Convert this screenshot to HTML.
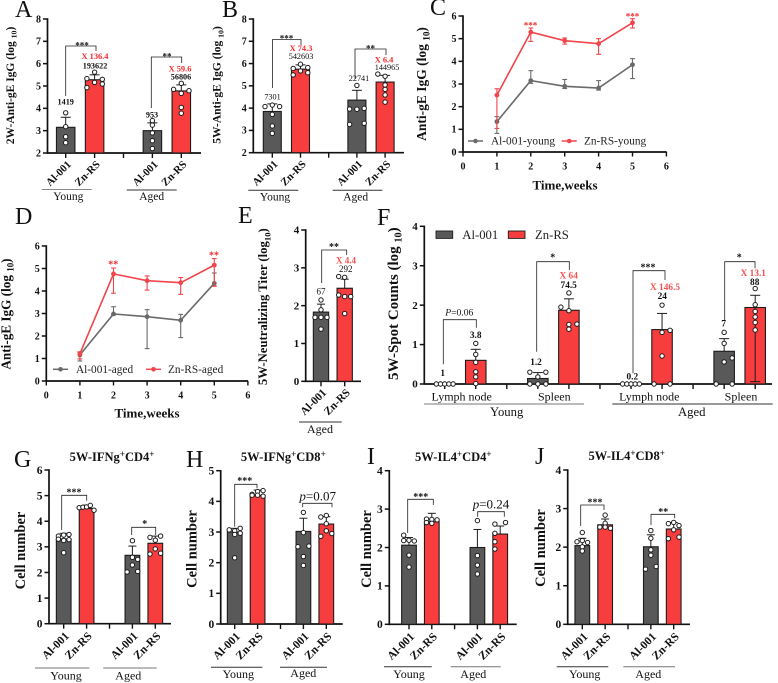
<!DOCTYPE html>
<html lang="en">
<head>
<meta charset="utf-8">
<title>Anti-gE IgG multi-panel figure</title>
<style>
html,body{margin:0;padding:0;background:#fff;width:778px;height:683px;overflow:hidden}
svg{display:block;font-family:"Liberation Serif",serif}
</style>
</head>
<body>
<svg id="figure" xmlns="http://www.w3.org/2000/svg" width="778" height="683" viewBox="0 0 778 683"></svg>
<script>
/* ---------- chart data ---------- */
const twoGroupCategories = ['Al-001','Zn-RS','Al-001','Zn-RS'];
const spotCategories = ['Al-001','Zn-RS','Al-001','Zn-RS','Al-001','Zn-RS','Al-001','Zn-RS'];
const igGTicks = [2,3,4,5,6,7,8];
const lineXTicks = [0,1,2,3,4,5,6];
const lineYTicks = [0,1,2,3,4,5,6];
const weeks = [1,2,3,4,5];
const fourTicks = [0,1,2,3,4];
const fiveTicks = [0,1,2,3,4,5];
const sixTicks = [0,1,2,3,4,5,6];

const aMeans = [3.15,5.28,3.0,4.78];
const aUpper = [3.6,5.5,3.35,5.05];
const aPoints = [
  [[3.8,3.18,2.73,2.46]],
  [[5.33,4.93],[5.62,5.16],[5.3,5.09]],
  [[3.45,3.25,2.9,2.55,2.2]],
  [[4.85],[5.12,4.67,4.04,3.78],[4.79]]
];

const bMeans = [3.85,5.75,4.36,5.17];
const bUpper = [4.19,5.94,4.8,5.47];
const bPoints = [
  [[4.07],[4.14,3.72,3.2,2.87],[4.07]],
  [[5.78,5.49],[5.97,5.67],[5.82,5.59]],
  [[3.96,3.27],[5.02,3.95],[3.99,3.32]],
  [[5.53],[5.43,5.04,4.84,4.59,4.27],[]]
];

const cAlMeans = [1.34,3.15,2.9,2.82,3.85];
const cAlUpper = [1.56,3.59,3.2,3.15,4.12];
const cAlLower = [0.82,3.03,2.8,2.73,3.24];
const cZnMeans = [2.51,5.29,4.91,4.78,5.7];
const cZnUpper = [2.79,5.47,5.03,5.0,5.88];
const cZnLower = [1.04,4.88,4.76,4.31,5.47];

const dAlMeans = [1.16,2.98,2.86,2.7,4.34];
const dAlUpper = [1.26,3.3,3.17,2.96,4.8];
const dAlLower = [0.89,2.93,1.44,1.93,4.22];
const dZnMeans = [1.21,4.76,4.46,4.37,5.15];
const dZnUpper = [1.3,5.02,4.67,4.6,5.44];
const dZnLower = [0.98,3.9,4.04,3.85,4.21];

const eCategories = ['Al-001','Zn-RS'];
const eMeans = [1.83,2.46];
const eUpper = [2.04,2.7];
const ePoints = [
  [[1.69],[2.15,1.89,1.69,1.38],[1.69]],
  [[2.77,2.28],[2.75,2.24,1.79],[2.24]]
];

const fMeans = [0,0.6,0.14,1.87,0,1.38,0.83,1.94];
const fUpper = [0,0.88,0.29,2.16,0,1.79,1.15,2.25];
const fLower = [null,null,null,null,null,null,null,0.06];
const fPoints = [
  [[0],[0],[0],[0],[0]],
  [[1.03,0.75,0.55,0.31,0.18,0.01]],
  [[0.3,0],[0.18,0],[0.3,0]],
  [[1.95],[2.31,1.86,1.51,1.39],[1.52]],
  [[0],[0],[0],[0],[0]],
  [[0],[2.0,1.31,0.71],[1.36,0]],
  [[0],[1.31,1.03,0.56],[0.66,0]],
  [[2.42,2.01,1.84,1.7,1.56,1.37]]
];

const gMeans = [3.31,4.5,2.67,3.14];
const gUpper = [3.53,4.63,3.03,3.42];
const gPoints = [
  [[3.42,3.3],[3.46,3.25,2.77],[3.48,3.28]],
  [[4.53],[4.55],[4.56],[4.62],[4.43]],
  [[2.02],[3.24,2.59,2.29],[2.51,2.04]],
  [[3.37,2.72],[3.26,2.92],[3.42,2.75]]
];

const hMeans = [3.0,4.2,3.02,3.26];
const hUpper = [3.12,4.37,3.45,3.5];
const hPoints = [
  [[3.07],[3.04,2.92,2.16],[3.12,2.96]],
  [[4.23,4.2],[4.32,4.2],[4.35,4.17]],
  [[2.52],[3.64,2.98,2.2,1.91],[2.54]],
  [[3.49,2.86],[3.54,3.27,3.04],[2.95]]
];

const iMeans = [2.06,2.67,2.0,2.35];
const iUpper = [2.26,2.89,2.47,2.56];
const iPoints = [
  [[2.32,2.18],[2.19,1.8,1.49],[2.17]],
  [[2.74,2.65],[2.73,2.63],[2.72]],
  [[2.7,1.79,1.54,1.31]],
  [[2.61,2.37,2.15,1.96],[],[2.65]]
];

const jMeans = [2.04,2.58,2.01,2.47];
const jUpper = [2.23,2.73,2.32,2.64];
const jPoints = [
  [[2.14],[2.38,2.17,2.01,1.9],[2.12]],
  [[2.52],[2.83,2.62,2.52],[2.49]],
  [[1.43],[2.43,2.23,1.93,1.79],[1.5]],
  [[2.61,2.22],[2.64,2.45],[2.56,2.26]]
];

/* ---------- drawing helpers ---------- */
const SVGNS = 'http://www.w3.org/2000/svg';
const root = document.getElementById('figure');
const AL = '#595959', ZN = '#f73d3d', INK = '#111';

function shape(tag, parent){
  const el = document.createElementNS(SVGNS, tag);
  (parent || root).appendChild(el);
  return el;
}
function line(parent, name, x1, y1, x2, y2, color, w){
  const el = shape('line', parent);
  
  
  el.setAttribute('x1', x1); el.setAttribute('y1', y1);
  el.setAttribute('x2', x2); el.setAttribute('y2', y2);
  el.setAttribute('stroke', color); el.setAttribute('stroke-width', w);
  return el;
}
function text(parent, name, x, y, str, size, opts){
  opts = opts || {};
  const el = shape('text', parent);
  
  
  el.setAttribute('x', x);
  el.setAttribute('y', y + size * (opts.stars ? 0.48 : 0.33));
  el.setAttribute('font-size', size);
  el.setAttribute('text-anchor', opts.anchor || 'middle');
  el.setAttribute('font-weight', opts.bold ? 'bold' : 'normal');
  el.setAttribute('fill', opts.fill || INK);
  el.textContent = str;
  return el;
}
function panelLetter(x, y, str){
  const el = shape('text');
  
  
  el.setAttribute('x', x); el.setAttribute('y', y);
  el.setAttribute('font-size', 24);
  el.setAttribute('fill', INK);
  el.textContent = str;
}
function stars(parent, x, y, str, size, fill){
  return text(parent, 'significance-stars', x, y, str, size || 10, {bold:true, stars:true, fill:fill});
}
function bracket(parent, xl, top, yl, xr, yr){
  const el = shape('polyline', parent);
  
  
  el.setAttribute('points', xl+','+yl+' '+xl+','+top+' '+xr+','+top+' '+xr+','+yr);
  el.setAttribute('fill', 'none');
  el.setAttribute('stroke', '#222');
  el.setAttribute('stroke-width', 0.8);
}
function pValue(parent, cx, y, prefix, rest, size){
  const el = text(parent, 'p-value-label', cx, y, '', size);
  const a = shape('tspan', el);
  
  
  a.setAttribute('font-style', 'italic');
  a.textContent = prefix;
  const b = shape('tspan', el);
  
  
  b.textContent = rest;
}
function yTitle(parent, x, cy, before, sub, after, size, length){
  const g = shape('g', parent);
  
  
  g.setAttribute('transform', 'translate('+x+','+cy+') rotate(-90)');
  const el = shape('text', g);
  
  
  el.setAttribute('y', size*0.33);
  el.setAttribute('font-size', size);
  el.setAttribute('font-weight', 'bold');
  el.setAttribute('text-anchor', 'middle');
  el.setAttribute('fill', INK);
  if (length){ el.setAttribute('textLength', length); el.setAttribute('lengthAdjust', 'spacingAndGlyphs'); }
  const a = shape('tspan', el);
  
  
  a.textContent = before;
  if (sub){
    const s = shape('tspan', el);
    
    
    s.setAttribute('font-size', size*0.68);
    s.setAttribute('dy', size*0.25);
    s.textContent = sub;
    const c = shape('tspan', el);
    
    
    c.setAttribute('dy', -size*0.25);
    c.textContent = after;
  }
}
function markerTitle(cx, y, first, second){
  const el = text(root, 'panel-title', cx, y, '', 12.5, {bold:true});
  const parts = [[first,0,null],['+',-4,9],[second,4,null],['+',-4,9]];
  parts.forEach(function(p){
    const t = shape('tspan', el);
    
    
    if (p[1]) t.setAttribute('dy', p[1]);
    if (p[2]) t.setAttribute('font-size', p[2]);
    t.textContent = p[0];
  });
}
function underline(parent, x1, x2, y, color){
  line(parent, 'group-underline', x1, y, x2, y, color || '#333', 1);
}
function legendLine(parent, x1, x2, y, color, label, textX, size){
  line(parent, 'legend-line', x1, y, x2, y, color, 1.5);
  const dot = shape('circle', parent);
  
  
  dot.setAttribute('cx', (x1+x2)/2); dot.setAttribute('cy', y); dot.setAttribute('r', 2.3);
  dot.setAttribute('fill', color);
  text(parent, 'legend-entry', textX, y, label, size, {anchor:'start', fill:'#222'});
}
function panelGroup(name){
  const g = shape('g');
  
  
  return g;
}

/* axis frame shared by bar and line panels */
function yAxis(g, p){
  const yOf = function(v){ return p.y0 - (v - p.vmin) * (p.y0 - p.y1) / (p.vmax - p.vmin); };
  p.ticks.forEach(function(t){
    line(g, 'y-tick', p.axisX - 4.5, yOf(t), p.axisX, yOf(t), INK, 1.5);
    text(g, 'y-tick-label', p.axisX - 6.5, yOf(t), String(t), p.tickFont, {anchor:'end', bold:true});
  });
  line(g, 'y-axis', p.axisX, p.y1 - 0.7, p.axisX, p.y0 + 0.8, INK, 1.7);
  line(g, 'x-axis', p.axisX, p.y0, p.xEnd, p.y0, INK, 1.7);
  return yOf;
}

function barPanel(p){
  const g = panelGroup(p.name);
  const yOf = yAxis(g, p);
  const xOf = function(slot){ return p.x0 + slot * p.step; };
  (p.gapSlots || []).forEach(function(s){
    line(g, 'x-tick', xOf(s), p.y0, xOf(s), p.y0 + 5, INK, 1.4);
  });
  p.means.forEach(function(mean, i){
    const cx = xOf(p.slots[i]);
    const isAl = p.categories[i] === 'Al-001';
    line(g, 'x-tick', cx, p.y0, cx, p.y0 + 5, INK, 1.4);
    const bar = shape('rect', g);
    
    
    bar.setAttribute('x', cx - p.barW/2);
    bar.setAttribute('y', yOf(mean));
    bar.setAttribute('width', p.barW);
    bar.setAttribute('height', Math.max(0, p.y0 - yOf(mean)));
    bar.setAttribute('fill', isAl ? AL : ZN);
    bar.setAttribute('stroke', '#1c1c1c');
    bar.setAttribute('stroke-width', 1.1);
    const up = p.upper[i];
    if (up > mean){
      line(g, 'error-bar', cx, yOf(mean), cx, yOf(up), '#1c1c1c', 1);
      line(g, 'error-cap', cx - p.capW/2, yOf(up), cx + p.capW/2, yOf(up), '#1c1c1c', 1);
    }
    if (p.lower && p.lower[i] !== null){
      line(g, 'error-bar', cx, yOf(mean), cx, yOf(p.lower[i]), '#1c1c1c', 1);
      line(g, 'error-cap', cx - p.capW/2, yOf(p.lower[i]), cx + p.capW/2, yOf(p.lower[i]), '#1c1c1c', 1);
    }
    const cols = p.points[i];
    const spread = cols.length >= 5 ? p.tightStep : p.colStep;
    cols.forEach(function(col, c){
      col.forEach(function(v){
        const dot = shape('circle', g);
        
        
        dot.setAttribute('cx', cx + (c - (cols.length - 1)/2) * spread);
        dot.setAttribute('cy', yOf(v));
        dot.setAttribute('r', p.r || 2.2);
        dot.setAttribute('fill', '#fff');
        dot.setAttribute('stroke', '#1c1c1c');
        dot.setAttribute('stroke-width', 1);
      });
    });
    if (p.catFont){
      const t = text(g, 'x-category-label', 0, 0, p.categories[i], p.catFont, {anchor:'end', bold:true});
      t.setAttribute('y', 0);
      t.setAttribute('transform', 'translate('+(cx + p.catDx)+','+(p.y0 + p.catDy)+') rotate(-45)');
    }
  });
  return g;
}

function linePanel(p){
  const g = panelGroup(p.name);
  const yOf = yAxis(g, p);
  const xOf = function(w){ return p.axisX + w * p.step; };
  lineXTicks.forEach(function(t){
    line(g, 'x-tick', xOf(t), p.y0, xOf(t), p.y0 + 4.5, INK, 1.4);
    text(g, 'x-tick-label', xOf(t), p.y0 + 14, String(t), p.tickFont, {bold:true});
  });
  p.series.forEach(function(s){
    const poly = shape('polyline', g);
    
    
    poly.setAttribute('points', weeks.map(function(w, i){ return xOf(w) + ',' + yOf(s.means[i]); }).join(' '));
    poly.setAttribute('fill', 'none');
    poly.setAttribute('stroke', s.color);
    poly.setAttribute('stroke-width', 1.6);
    weeks.forEach(function(w, i){
      const x = xOf(w);
      line(g, 'error-bar', x, yOf(s.upper[i]), x, yOf(s.lower[i]), s.color, 1.1);
      line(g, 'error-cap', x - 2.4, yOf(s.upper[i]), x + 2.4, yOf(s.upper[i]), s.color, 1.1);
      line(g, 'error-cap', x - 2.4, yOf(s.lower[i]), x + 2.4, yOf(s.lower[i]), s.color, 1.1);
      const dot = shape('circle', g);
      
      
      dot.setAttribute('cx', x); dot.setAttribute('cy', yOf(s.means[i])); dot.setAttribute('r', 2.4);
      dot.setAttribute('fill', s.color);
    });
  });
  return g;
}

const RED = '#f22b2b', SOFT_RED = '#f4514f', GREY = '#6a6a6a', LINE_RED = '#f0454b';

/* ---------- panel letters ---------- */
panelLetter(15,17,'A'); panelLetter(222,17,'B'); panelLetter(430,15,'C');
panelLetter(15,224,'D'); panelLetter(238,223,'E'); panelLetter(377,225,'F');
panelLetter(14,467,'G'); panelLetter(186,467,'H'); panelLetter(367,464,'I'); panelLetter(535,464,'J');

/* ---------- A ---------- */
let g = barPanel({name:'panel-a', axisX:47.5, xEnd:201, y0:153, y1:19, vmin:2, vmax:8, ticks:igGTicks, tickFont:10,
  x0:65.7, step:28.9, slots:[0,1,3,4], gapSlots:[2], barW:18.5, capW:10, colStep:7.7, tightStep:4,
  categories:twoGroupCategories, means:aMeans, upper:aUpper, points:aPoints, catFont:10.8, catDx:6, catDy:12});
yTitle(g, 10, 85.5, '2W-Anti-gE IgG (log ', '10', ')', 11.5);
bracket(g, 65.7, 46, 96, 96, 51); stars(g, 82, 44, '***', 9);
bracket(g, 151.3, 57, 108, 181.7, 63); stars(g, 167, 55, '**', 9);
text(g,'value-label',65.7,102,'1419',8.2,{bold:true});
text(g,'value-label',95,66,'193622',8.2,{bold:true});
text(g,'fold-change-label',95,56,'X 136.4',8.4,{bold:true,fill:RED});
text(g,'value-label',152,115,'953',8.2,{bold:true});
text(g,'value-label',181,77,'56806',8.2,{bold:true});
text(g,'fold-change-label',180,68.5,'X 59.6',8.4,{bold:true,fill:RED});
underline(g,41.7,91.7,189.5,'#888'); underline(g,126.7,176.7,190,'#333');
text(g,'group-label-young',68.3,196,'Young',11.5); text(g,'group-label-aged',151.7,196,'Aged',11.5);

/* ---------- B ---------- */
g = barPanel({name:'panel-b', axisX:253.3, xEnd:404, y0:152.7, y1:19, vmin:2, vmax:8, ticks:igGTicks, tickFont:10,
  x0:272.3, step:28.2, slots:[0,1,3,4], gapSlots:[2], barW:18, capW:10, colStep:7.3, tightStep:4,
  categories:twoGroupCategories, means:bMeans, upper:bUpper, points:bPoints, catFont:10.8, catDx:6, catDy:12});
yTitle(g, 216.7, 85, '5W-Anti-gE IgG (log ', '10', ')', 11.5);
bracket(g, 272.5, 39.5, 88, 301, 45); stars(g, 286.5, 37, '***', 9);
bracket(g, 355, 49, 79, 386, 55); stars(g, 370.5, 47, '**', 9);
text(g,'value-label',272.5,97,'7301',8.2);
text(g,'value-label',301,56.5,'542603',8.2);
text(g,'fold-change-label',301,48,'X 74.3',8.4,{bold:true,fill:RED});
text(g,'value-label',359,78.5,'22741',8.2);
text(g,'value-label',387,67.5,'144965',8.2);
text(g,'fold-change-label',384,59.5,'X 6.4',8.4,{bold:true,fill:RED});
underline(g,248.3,298.3,190.3,'#333'); underline(g,332.7,382.3,190.3,'#333');
text(g,'group-label-young',275,196.7,'Young',11.5); text(g,'group-label-aged',355.7,196.7,'Aged',11.5);

/* ---------- C ---------- */
g = linePanel({name:'panel-c', axisX:463, xEnd:666.7, y0:152, y1:16, vmin:0, vmax:6, ticks:lineYTicks, tickFont:10, step:33.9,
  series:[
    {key:'al-001-young', color:GREY, means:cAlMeans, upper:cAlUpper, lower:cAlLower},
    {key:'zn-rs-young', color:LINE_RED, means:cZnMeans, upper:cZnUpper, lower:cZnLower}
  ]});
yTitle(g, 421.7, 84, 'Anti-gE IgG (log ', '10', ')', 13.5);
stars(g, 530.5, 24, '***', 9, RED); stars(g, 632.5, 15, '***', 9, RED);
legendLine(g,468,483,141,GREY,'Al-001-young',491,11.3);
legendLine(g,561.7,576.7,141,LINE_RED,'Zn-RS-young',584,11.3);
text(g,'x-axis-title',565,185,'Time,weeks',13,{bold:true});

/* ---------- D ---------- */
g = linePanel({name:'panel-d', axisX:46.3, xEnd:248, y0:381, y1:246, vmin:0, vmax:6, ticks:lineYTicks, tickFont:10, step:33.6,
  series:[
    {key:'al-001-aged', color:GREY, means:dAlMeans, upper:dAlUpper, lower:dAlLower},
    {key:'zn-rs-aged', color:LINE_RED, means:dZnMeans, upper:dZnUpper, lower:dZnLower}
  ]});
yTitle(g, 6, 314, 'Anti-gE IgG (log ', '10', ')', 13.2);
stars(g, 113.3, 262.7, '**', 10, RED); stars(g, 214, 253.7, '**', 10, RED);
legendLine(g,53,68,369.3,GREY,'Al-001-aged',76,11.3);
legendLine(g,146,161,369.3,LINE_RED,'Zn-RS-aged',168,11.3);
text(g,'x-axis-title',147,413,'Time,weeks',13,{bold:true});

/* ---------- E ---------- */
g = barPanel({name:'panel-e', axisX:305.7, xEnd:361, y0:381.3, y1:230, vmin:0, vmax:4, ticks:fourTicks, tickFont:11,
  x0:321, step:23.7, slots:[0,1], barW:15.3, capW:8, colStep:6, tightStep:3,
  categories:eCategories, means:eMeans, upper:eUpper, points:ePoints, catFont:11.2, catDx:6, catDy:12});
yTitle(g, 263, 306.7, '5W-Neutralizing Titer (log', '10', ')', 12.7);
bracket(g, 321.7, 250, 283, 346.7, 255); stars(g, 334, 245, '**', 10);
text(g,'value-label',321,291.7,'67',9);
text(g,'value-label',345.7,269,'292',9);
text(g,'fold-change-label',346,260.7,'X 4.4',9,{bold:true,fill:SOFT_RED});
underline(g,299,341.7,422,'#333');
text(g,'group-label-aged',320,429,'Aged',12);

/* ---------- F ---------- */
g = barPanel({name:'panel-f', axisX:424.3, xEnd:772, y0:384, y1:226.3, vmin:0, vmax:4, ticks:fourTicks, tickFont:11,
  x0:444.7, step:31.05, slots:[0,1,3,4,6,7,9,10], gapSlots:[2,5,8], barW:20.5, capW:10, colStep:8, tightStep:4.2,
  categories:spotCategories, means:fMeans, upper:fUpper, lower:fLower, points:fPoints});
yTitle(g, 393, 303.7, '5W-Spot Counts (log ', '10', ')', 15);
bracket(g, 443.3, 319.7, 364.3, 476.3, 327.7); pValue(g, 459.3, 312.3, 'P', '=0.06', 9.6);
bracket(g, 536.7, 261.7, 351.7, 569.3, 270); stars(g, 552.7, 255.7, '*', 10);
bracket(g, 633, 270.7, 373.3, 665, 280); stars(g, 648, 265.7, '***', 10);
bracket(g, 724.7, 261.7, 320, 755, 268.3); stars(g, 739.3, 255.7, '*', 10);
text(g,'value-label',442.7,372.7,'1',9.3,{bold:true});
text(g,'value-label',475.7,335,'3.8',9.3,{bold:true});
text(g,'value-label',536,361.7,'1.2',9.3,{bold:true});
text(g,'value-label',568.7,285,'74.5',9.3,{bold:true});
text(g,'fold-change-label',568.7,275.3,'X 64',9.3,{bold:true,fill:SOFT_RED});
text(g,'value-label',632.3,376.3,'0.2',9.3,{bold:true});
text(g,'value-label',662.3,295.7,'24',9.3,{bold:true});
text(g,'fold-change-label',665,286.7,'X 146.5',9.3,{bold:true,fill:SOFT_RED});
text(g,'value-label',723.7,323.3,'7',9.3,{bold:true});
text(g,'value-label',754.7,281.7,'88',9.3,{bold:true});
text(g,'fold-change-label',753.3,273,'X 13.1',9.3,{bold:true,fill:SOFT_RED});
text(g,'x-group-label',461.7,396.3,'Lymph node',12);
text(g,'x-group-label',554.3,396.3,'Spleen',12);
text(g,'x-group-label',649.3,396.3,'Lymph node',12);
text(g,'x-group-label',741,396.3,'Spleen',12);
underline(g,424,584,404,'#777'); underline(g,612.3,772.7,404,'#333');
text(g,'group-label-young',506.7,411.7,'Young',12.7);
text(g,'group-label-aged',691.7,411.7,'Aged',12.7);
[[436,'Al-001',AL,462.3],[508.3,'Zn-RS',ZN,535]].forEach(function(e){
  const sw = shape('rect', g);
  
  
  sw.setAttribute('x', e[0]); sw.setAttribute('y', 231);
  sw.setAttribute('width', 16.7); sw.setAttribute('height', 7.4);
  sw.setAttribute('fill', e[2]); sw.setAttribute('stroke', '#1c1c1c'); sw.setAttribute('stroke-width', 0.9);
  text(g,'legend-entry',e[3],235,e[1],12.7,{anchor:'start',fill:'#222'});
});

/* ---------- G ---------- */
g = barPanel({name:'panel-g', axisX:49, xEnd:171, y0:623.7, y1:470, vmin:0, vmax:6, ticks:sixTicks, tickFont:11.5,
  x0:63.7, step:22.9, slots:[0,1,3,4], gapSlots:[2], barW:14.7, capW:8, colStep:5.3, tightStep:3.7,
  categories:twoGroupCategories, means:gMeans, upper:gUpper, points:gPoints, catFont:11.6, catDx:6, catDy:13});
markerTitle(112,456.7,'5W-IFNg','CD4');
yTitle(g, 20, 550.5, 'Cell number', '', '', 14.5);
bracket(g, 61.7, 495.3, 530, 86.7, 500.7); stars(g, 74, 490.7, '***', 10);
bracket(g, 131.7, 527.3, 535, 155.7, 535); stars(g, 144.7, 522, '*', 10);
underline(g,35,89.3,668,'#777'); underline(g,103.3,156.7,668,'#777');
text(g,'group-label-young',66,675.7,'Young',12); text(g,'group-label-aged',128.3,675.7,'Aged',12);

/* ---------- H ---------- */
g = barPanel({name:'panel-h', axisX:220.7, xEnd:342.7, y0:624, y1:470.7, vmin:0, vmax:5, ticks:fiveTicks, tickFont:11.5,
  x0:234.7, step:22.9, slots:[0,1,3,4], gapSlots:[2], barW:14.7, capW:8, colStep:5.5, tightStep:3.7,
  categories:twoGroupCategories, means:hMeans, upper:hUpper, points:hPoints, catFont:11.6, catDx:6, catDy:13});
markerTitle(283.3,457,'5W-IFNg','CD8');
yTitle(g, 191.7, 549, 'Cell number', '', '', 14.5);
bracket(g, 234.7, 484.3, 526.7, 257, 488.3); stars(g, 244.7, 479.3, '***', 10);
bracket(g, 302.7, 503.3, 507.3, 332, 507.3); pValue(g, 317.7, 496, 'p', '=0.07', 13);
underline(g,211,262.3,667.3,'#333'); underline(g,280,327,667.3,'#333');
text(g,'group-label-young',238.3,674,'Young',12); text(g,'group-label-aged',303.3,673,'Aged',12);

/* ---------- I ---------- */
g = barPanel({name:'panel-i', axisX:389.3, xEnd:516.7, y0:624.3, y1:470.7, vmin:0, vmax:4, ticks:fourTicks, tickFont:11.5,
  x0:409, step:22.8, slots:[0,1,3,4], gapSlots:[2], barW:14.7, capW:8, colStep:5.3, tightStep:3.7,
  categories:twoGroupCategories, means:iMeans, upper:iUpper, points:iPoints, catFont:11.6, catDx:6, catDy:13});
markerTitle(453.3,457,'5W-IL4','CD4');
yTitle(g, 366, 549, 'Cell number', '', '', 14.5);
bracket(g, 407.7, 499.3, 533, 433.3, 505); stars(g, 420.7, 495, '***', 10);
bracket(g, 477.7, 511.7, 516.7, 504.3, 516.7); pValue(g, 491, 504.3, 'p', '=0.24', 13);
underline(g,384,431.7,666.7,'#333'); underline(g,450.7,500.7,666.7,'#777');
text(g,'group-label-young',409,674,'Young',12); text(g,'group-label-aged',473.3,674,'Aged',12);

/* ---------- J ---------- */
g = barPanel({name:'panel-j', axisX:567.7, xEnd:690, y0:624.3, y1:470, vmin:0, vmax:4, ticks:fourTicks, tickFont:11.5,
  x0:582.3, step:22.85, slots:[0,1,3,4], gapSlots:[2], barW:14.7, capW:8, colStep:5.3, tightStep:3.7,
  categories:twoGroupCategories, means:jMeans, upper:jUpper, points:jPoints, catFont:11.6, catDx:6, catDy:13});
markerTitle(626.7,456,'5W-IL4','CD8');
yTitle(g, 540, 548, 'Cell number', '', '', 14.5);
bracket(g, 580.7, 505, 526, 604, 510); stars(g, 595, 500.7, '***', 10);
bracket(g, 651, 514.3, 525, 674.7, 518.3); stars(g, 663.3, 510, '**', 10);
underline(g,556.7,608.3,666.7,'#333'); underline(g,623.3,675,666.7,'#777');
text(g,'group-label-young',584.7,674,'Young',12); text(g,'group-label-aged',648.3,674,'Aged',12);
</script>
</body>
</html>
